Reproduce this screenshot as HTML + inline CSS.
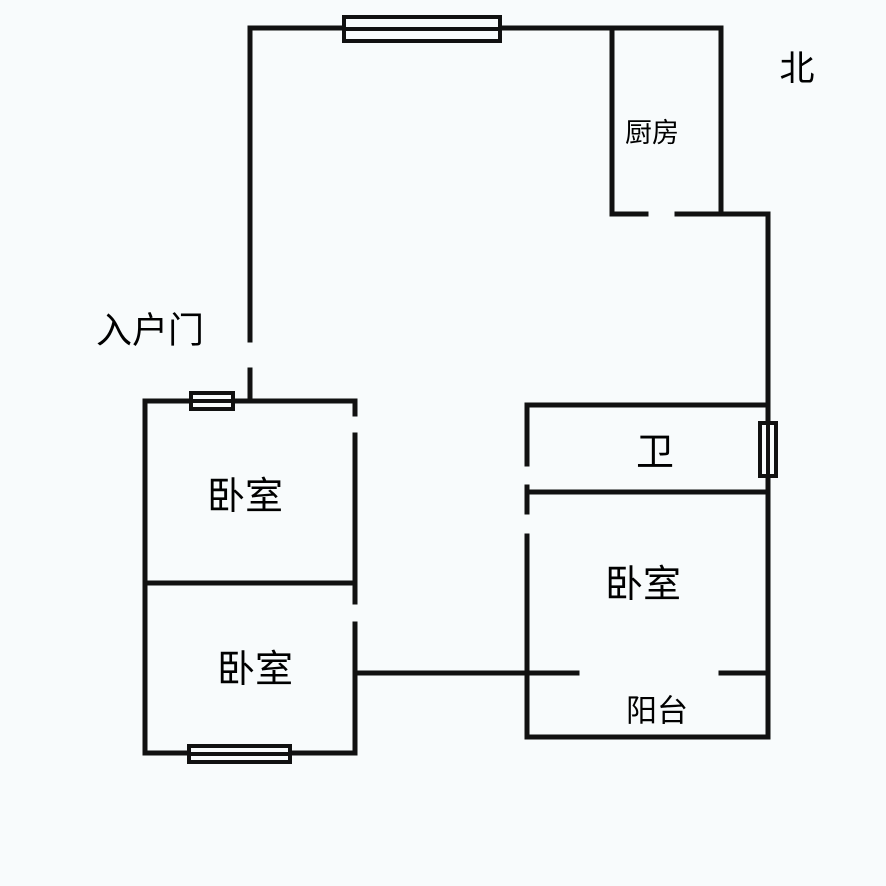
<!DOCTYPE html>
<html><head><meta charset="utf-8"><style>
html,body{margin:0;padding:0;background:#f8fbfc;}
svg{display:block}
text{font-family:"Liberation Sans","Noto Sans CJK SC",sans-serif;fill:#000;text-anchor:middle;dominant-baseline:central}
</style></head><body>
<svg width="886" height="886" viewBox="0 0 886 886">
<g stroke="#111" stroke-width="5" fill="none" stroke-linecap="square">
<polyline points="250,340 250,28 721,28 721,214"/>
<line x1="612" y1="28" x2="612" y2="214"/>
<line x1="612" y1="214" x2="646" y2="214"/>
<polyline points="677,214 768,214 768,737 527,737 527,536"/>
<line x1="250" y1="370" x2="250" y2="400"/>
<line x1="527" y1="405" x2="768" y2="405"/>
<line x1="527" y1="492" x2="768" y2="492"/>
<line x1="527" y1="405" x2="527" y2="464"/>
<line x1="527" y1="487" x2="527" y2="512"/>
<line x1="357" y1="673" x2="577" y2="673"/>
<line x1="721" y1="673" x2="768" y2="673"/>
<polyline points="355,414 355,401 145,401 145,753 355,753 355,624"/>
<line x1="355" y1="435" x2="355" y2="602"/>
<line x1="145" y1="583" x2="355" y2="583"/>
</g>
<g stroke="#111" stroke-width="4" fill="#f8fbfc">
<rect x="344" y="17" width="156" height="24"/>
<line x1="344" y1="29" x2="500" y2="29"/>
<rect x="191" y="393" width="42" height="16"/>
<line x1="191" y1="401" x2="233" y2="401"/>
<rect x="189" y="746" width="101" height="16"/>
<line x1="189" y1="754" x2="290" y2="754"/>
<rect x="760" y="423" width="16" height="53"/>
<line x1="768" y1="423" x2="768" y2="476"/>
</g>
<text x="797" y="69" font-size="35">北</text>
<text x="652" y="133" font-size="27">厨房</text>
<text x="150" y="330" font-size="36">入户门</text>
<text x="245" y="497" font-size="38">卧室</text>
<text x="255" y="670" font-size="38">卧室</text>
<text x="643" y="585" font-size="38">卧室</text>
<text x="655" y="453" font-size="38">卫</text>
<text x="657" y="711" font-size="31">阳台</text>
</svg>
</body></html>
